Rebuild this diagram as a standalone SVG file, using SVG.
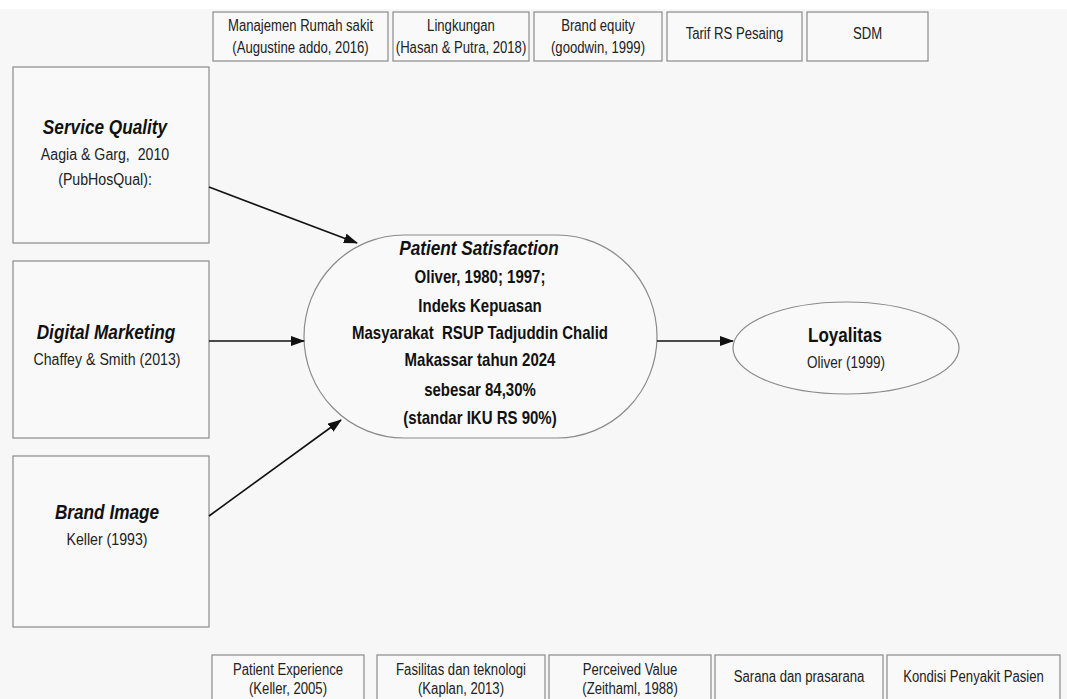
<svg xmlns="http://www.w3.org/2000/svg" width="1067" height="699" viewBox="0 0 1067 699">
<defs>
<marker id="ah" markerWidth="14" markerHeight="10" refX="13" refY="5" orient="auto" markerUnits="userSpaceOnUse">
<path d="M0,0 L14,5 L0,10 Z" fill="#111"/>
</marker>
<style>
.bx{fill:#f9f9f9;stroke:#8a8a8a;stroke-width:1.2}
text{font-family:"Liberation Sans",Arial,sans-serif;text-anchor:middle;white-space:pre}
.sm{font-size:16px;fill:#222}
.ttl{font-size:21px;font-weight:bold;font-style:italic;fill:#111}
.sub{font-size:17.3px;fill:#222}
.psb{font-size:18.3px;font-weight:bold;fill:#111}
.cn{stroke:#111;stroke-width:1.6;fill:none;marker-end:url(#ah)}
</style>
</defs>
<rect x="0" y="0" width="1067" height="699" fill="#f7f7f7"/>
<rect x="0" y="0" width="1067" height="9" fill="#ffffff"/>

<g id="top1"><rect class="bx" x="213" y="12" width="175" height="49"/><text class="sm" transform="translate(300.5 31) scale(.82 1)">Manajemen Rumah sakit</text><text class="sm" transform="translate(300.5 53) scale(.82 1)">(Augustine addo, 2016)</text></g>
<g id="top2"><rect class="bx" x="393" y="12" width="136" height="49"/><text class="sm" transform="translate(461 31) scale(.82 1)">Lingkungan</text><text class="sm" transform="translate(461 53) scale(.82 1)">(Hasan &amp; Putra, 2018)</text></g>
<g id="top3"><rect class="bx" x="534" y="12" width="128" height="49"/><text class="sm" transform="translate(598 31) scale(.82 1)">Brand equity</text><text class="sm" transform="translate(598 53) scale(.82 1)">(goodwin, 1999)</text></g>
<g id="top4"><rect class="bx" x="667" y="12" width="135" height="49"/><text class="sm" transform="translate(734.5 39) scale(.82 1)">Tarif RS Pesaing</text></g>
<g id="top5"><rect class="bx" x="807" y="12" width="121" height="49"/><text class="sm" transform="translate(867.5 39) scale(.82 1)">SDM</text></g>

<g id="serviceQuality"><rect class="bx" x="13" y="67" width="196" height="176"/><text class="ttl" transform="translate(105 134) scale(.82 1)">Service Quality</text><text class="sub" transform="translate(105 160) scale(.82 1)">Aagia &amp; Garg,  2010</text><text class="sub" transform="translate(105 185) scale(.82 1)">(PubHosQual):</text></g>
<g id="digitalMarketing"><rect class="bx" x="13" y="261" width="196" height="177"/><text class="ttl" transform="translate(106 339) scale(.82 1)">Digital Marketing</text><text class="sub" transform="translate(107 365) scale(.82 1)">Chaffey &amp; Smith (2013)</text></g>
<g id="brandImage"><rect class="bx" x="13" y="456" width="196" height="171"/><text class="ttl" transform="translate(107 519) scale(.82 1)">Brand Image</text><text class="sub" transform="translate(107 545) scale(.82 1)">Keller (1993)</text></g>

<g id="patientSatisfaction"><rect class="bx" x="304" y="235" width="353" height="203" rx="100" ry="101.5"/>
<text class="ttl" transform="translate(479 255) scale(.82 1)">Patient Satisfaction</text>
<text class="psb" transform="translate(480 283) scale(.82 1)">Oliver, 1980; 1997;</text>
<text class="psb" transform="translate(480 312) scale(.82 1)">Indeks Kepuasan</text>
<text class="psb" transform="translate(480 339) scale(.82 1)">Masyarakat  RSUP Tadjuddin Chalid</text>
<text class="psb" transform="translate(480 366) scale(.82 1)">Makassar tahun 2024</text>
<text class="psb" transform="translate(480 396) scale(.82 1)">sebesar 84,30%</text>
<text class="psb" transform="translate(480 424) scale(.82 1)">(standar IKU RS 90%)</text></g>

<g id="loyalitas"><ellipse class="bx" cx="846" cy="348" rx="113" ry="46"/><text class="psb" style="font-size:20.8px" transform="translate(845 342) scale(.82 1)">Loyalitas</text><text class="sub" style="font-size:16.5px" transform="translate(846 368) scale(.82 1)">Oliver (1999)</text></g>

<g id="bot1"><rect class="bx" x="212" y="655" width="152" height="50"/><text class="sm" transform="translate(288 675) scale(.82 1)">Patient Experience</text><text class="sm" transform="translate(288 694) scale(.82 1)">(Keller, 2005)</text></g>
<g id="bot2"><rect class="bx" x="377" y="655" width="168" height="50"/><text class="sm" transform="translate(461 675) scale(.82 1)">Fasilitas dan teknologi</text><text class="sm" transform="translate(461 694) scale(.82 1)">(Kaplan, 2013)</text></g>
<g id="bot3"><rect class="bx" x="549" y="655" width="162" height="50"/><text class="sm" transform="translate(630 675) scale(.82 1)">Perceived Value</text><text class="sm" transform="translate(630 694) scale(.82 1)">(Zeithaml, 1988)</text></g>
<g id="bot4"><rect class="bx" x="715" y="655" width="168" height="50"/><text class="sm" transform="translate(799 682) scale(.82 1)">Sarana dan prasarana</text></g>
<g id="bot5"><rect class="bx" x="887" y="655" width="173" height="50"/><text class="sm" transform="translate(973.5 682) scale(.82 1)">Kondisi Penyakit Pasien</text></g>

<g id="connectors">
<line class="cn" x1="209" y1="187" x2="357" y2="243"/>
<line class="cn" x1="209" y1="341" x2="304" y2="341"/>
<line class="cn" x1="209" y1="516" x2="341" y2="420"/>
<line class="cn" x1="657" y1="341" x2="733" y2="341"/>
</g>
</svg>
